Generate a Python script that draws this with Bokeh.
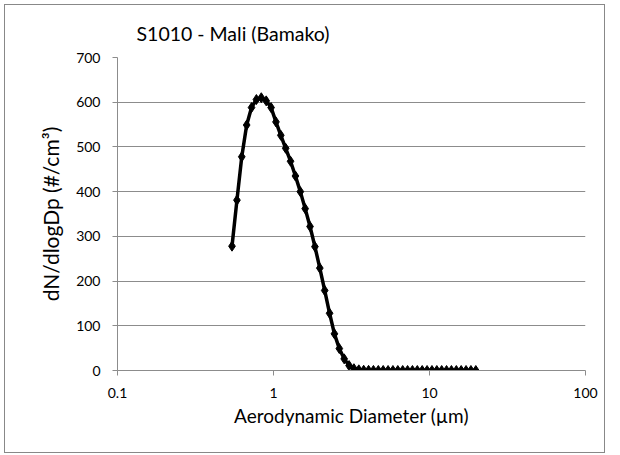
from bokeh.plotting import figure
from bokeh.models import FixedTicker, ColumnDataSource
from bokeh.embed import file_html
from bokeh.resources import INLINE

diameter_um = [0.542, 0.583, 0.626, 0.673, 0.723, 0.777, 0.835, 0.898, 0.965, 1.037,
               1.114, 1.197, 1.286, 1.382, 1.486, 1.596, 1.715, 1.843, 1.981, 2.129,
               2.288, 2.458, 2.642, 2.839, 3.051, 3.278, 3.523, 3.786, 4.068, 4.371,
               4.698, 5.048, 5.425, 5.829, 6.264, 6.732, 7.234, 7.774, 8.354, 8.977,
               9.647, 10.37, 11.14, 11.97, 12.86, 13.82, 14.86, 15.96, 17.15, 18.43, 19.81]
dndlogdp = [278, 381, 478, 549, 588, 606, 610, 603, 588, 556,
            526, 497, 468, 435, 400, 362, 322, 277, 229, 179,
            128, 82, 49, 26, 11, 4, 1.5, 0.6, 0.3, 0.2,
            0.1, 0.1, 0, 0, 0, 0, 0, 0, 0, 0,
            0, 0, 0, 0, 0, 0, 0, 0, 0, 0, 0]
x_ticks = [0.1, 1, 10, 100]
x_tick_labels = ["0.1", "1", "10", "100"]
y_ticks = [0, 100, 200, 300, 400, 500, 600, 700]

title_text = "S1010 - Mali (Bamako)"
x_label = "Aerodynamic Diameter (\u00b5m)"
y_label = "dN/dlogDp (#/cm\u00b3)"

FONT = "Lato"
GRID = "#8c8c8c"

src = ColumnDataSource(dict(x=diameter_um, y=dndlogdp))

p = figure(width=601, height=449, output_backend="svg", toolbar_location=None,
           x_axis_type="log", x_range=(0.1, 100), y_range=(0, 700),
           min_border_left=112, min_border_right=21, min_border_top=52,
           min_border_bottom=84, title=title_text)
p.styles = {"border": "1px solid #888888", "margin-left": "4px", "margin-top": "4px"}

p.title.text_font = FONT
p.title.text_font_size = "19.5px"
p.title.text_font_style = "normal"
p.title.text_color = "#000000"
p.title.align = "left"
p.title.offset = 19
p.title.standoff = 26

p.outline_line_color = None
p.background_fill_color = "white"
p.border_fill_color = "white"

p.xgrid.grid_line_color = None
p.ygrid.grid_line_color = GRID
p.ygrid.grid_line_width = 1
p.ygrid.ticker = FixedTicker(ticks=y_ticks)

p.xaxis.ticker = FixedTicker(ticks=x_ticks, minor_ticks=[])
p.xaxis.major_label_overrides = {t: l for t, l in zip(x_ticks, x_tick_labels)}
p.yaxis.ticker = FixedTicker(ticks=y_ticks, minor_ticks=[])

for ax in (p.xaxis, p.yaxis):
    ax.axis_line_color = GRID
    ax.axis_line_width = 1
    ax.major_tick_line_color = GRID
    ax.major_tick_in = 0
    ax.major_tick_out = 5
    ax.minor_tick_line_color = None
    ax.major_label_text_font = FONT
    ax.major_label_text_font_size = "14px"
    ax.major_label_text_color = "#000000"
    ax.axis_label_text_font = FONT
    ax.axis_label_text_font_style = "normal"
    ax.axis_label_text_color = "#000000"

p.xaxis.axis_label = x_label
p.yaxis.axis_label = y_label
p.xaxis.axis_label_text_font_size = "19px"
p.yaxis.axis_label_text_font_size = "21px"
p.xaxis.major_label_standoff = 12
p.yaxis.major_label_standoff = 12
p.xaxis.axis_label_standoff = 3
p.yaxis.axis_label_standoff = 10

p.line("x", "y", source=src, line_color="black", line_width=3.5)
p.scatter("x", "y", source=src, marker="diamond", size=10,
          fill_color="black", line_color="black")

open("out.html", "w").write(file_html(p, INLINE))
